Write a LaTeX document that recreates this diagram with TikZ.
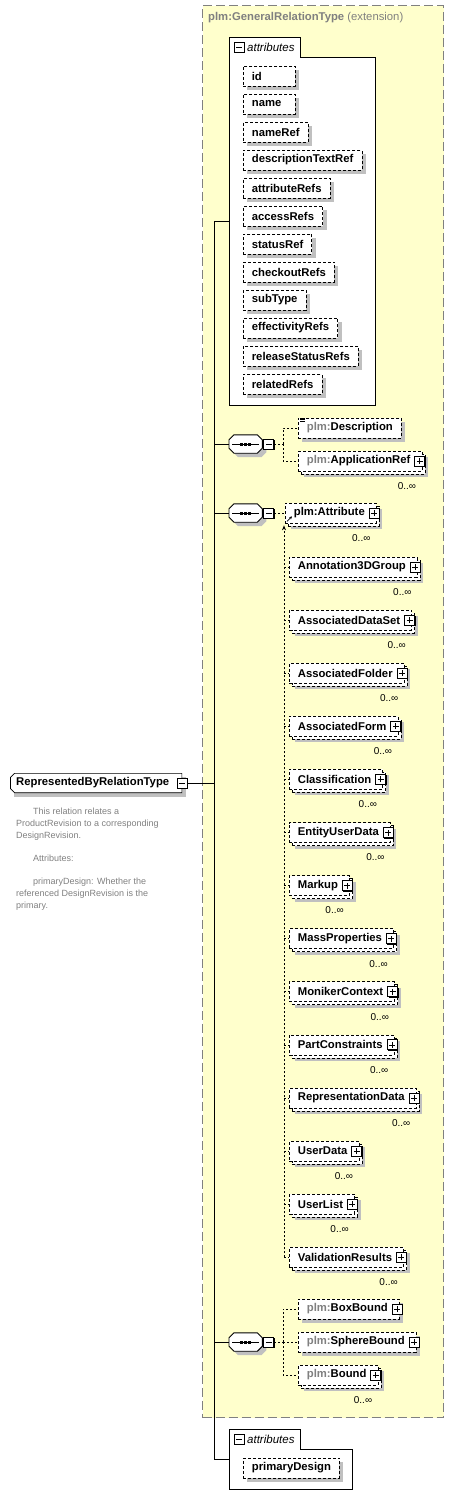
\documentclass[tikz,border=0pt]{standalone}
\usepackage{fontspec}
\setmainfont{Liberation Sans}
\usepackage{xcolor}
\usetikzlibrary{arrows.meta,positioning,calc,shadows}

\definecolor{extyellow}{RGB}{255,255,204}
\definecolor{extgray}{RGB}{128,128,128}
\definecolor{shadegray}{RGB}{192,192,192}

\newcommand{\pfx}{\textcolor{extgray}{plm:}}
\newcommand{\padto}[2]{\setbox0\hbox{#2}%
    \ifdim\wd0<#1\hbox to #1{\box0\hfil}\else\box0\fi}
\newcommand{\gap}[1]{\hspace{#1}\null}
\newcommand{\seqbody}[1]{%
    \path[seqshape] ([xshift=5pt]#1.north west) -- ([xshift=-5pt]#1.north east)
        -- ([yshift=-5pt]#1.north east) -- ([yshift=5pt]#1.south east)
        -- ([xshift=-5pt]#1.south east) -- ([xshift=5pt]#1.south west)
        -- ([yshift=5pt]#1.south west) -- ([yshift=-5pt]#1.north west) -- cycle;
    \draw[line width=0.9pt] ([xshift=3pt]#1.west) -- ([xshift=-3pt]#1.east);
    \foreach \d in {-4,0,4}
        \fill ([xshift=\d pt]#1.center) +(-1.5pt,-1.5pt) rectangle +(1.5pt,1.5pt);}

\tikzset{
    ext/.style={draw=extgray, fill=extyellow, line width=1pt,
        dash pattern=on 9pt off 4pt, inner sep=0pt, anchor=north west},
    title/.style={text=extgray, font=\fontsize{11.3}{13}\selectfont,
        anchor=west, inner sep=0pt},
    shade/.style={drop shadow={shadow xshift=4pt, shadow yshift=-4pt,
        fill=shadegray, opacity=1}},
    box/.style={draw, fill=white, line width=0.7pt, dash pattern=on 3pt off 2pt,
        minimum height=20pt, inner xsep=8.5pt, inner ysep=0pt, anchor=west,
        font=\fontsize{11.3}{13}\selectfont\bfseries},
    one/.style={box, shade},
    attr/.style={one},
    many/.style={box,
        drop shadow={shadow xshift=6pt, shadow yshift=-6pt, fill=shadegray, opacity=1},
        general shadow={shadow xshift=3pt, shadow yshift=-3pt, draw, fill=white}},
    btn/.style={draw, solid, fill=white, line width=0.9pt, minimum size=10pt,
        inner sep=0pt,
        drop shadow={shadow xshift=1pt, shadow yshift=-1pt, fill=black, opacity=1}},
    plusbtn/.style={btn, path picture={
        \draw[line width=0.8pt] ([xshift=2pt]path picture bounding box.west)
            -- ([xshift=-2pt]path picture bounding box.east)
            ([yshift=2pt]path picture bounding box.south)
            -- ([yshift=-2pt]path picture bounding box.north);}},
    minusbtn/.style={btn, path picture={
        \draw[line width=0.8pt] ([xshift=2pt]path picture bounding box.west)
            -- ([xshift=-2pt]path picture bounding box.east);}},
    occ/.style={font=\fontsize{10}{12}\selectfont, inner sep=0pt, anchor=base east},
    seq/.style={minimum width=33pt, minimum height=18pt, inner sep=0pt, anchor=west},
    seqshape/.style={draw, fill=white, line width=0.9pt, shade},
    main/.style={shade, minimum height=20pt, inner xsep=6pt, inner ysep=0pt,
        anchor=west, font=\fontsize{11.3}{13}\selectfont\bfseries, path picture={
        \path[draw, fill=white, line width=0.7pt]
            ([xshift=4.35pt,yshift=-0.35pt]path picture bounding box.north west)
            -- ([xshift=-0.35pt,yshift=-0.35pt]path picture bounding box.north east)
            -- ([xshift=-0.35pt,yshift=0.35pt]path picture bounding box.south east)
            -- ([xshift=4.35pt,yshift=0.35pt]path picture bounding box.south west)
            -- ([xshift=0.35pt,yshift=4.35pt]path picture bounding box.south west)
            -- ([xshift=0.35pt,yshift=-4.35pt]path picture bounding box.north west)
            -- cycle;}},
    doc/.style={text=extgray, font=\fontsize{9}{11.7}\selectfont, align=left,
        anchor=north west, inner sep=0pt},
    frame/.style={fill=white, anchor=north west, inner sep=0pt},
    tab/.style={fill=white, minimum height=19pt, inner xsep=5pt, inner ysep=0pt,
        anchor=south west, font=\fontsize{11.5}{13}\selectfont\itshape},
    link/.style={line width=0.8pt},
    dlink/.style={line width=0.8pt, dash pattern=on 2pt off 2pt}
}

\begin{document}
\begin{tikzpicture}[x=1pt,y=-1pt]
    \useasboundingbox (0,0) rectangle (454,1507);
    \node[ext, minimum width=241pt, minimum height=1412pt] (ext) at (202,5) {};
    \node[title] (ext-t) at (208,18) {\textbf{plm:GeneralRelationType} (extension)};

    \node[frame, minimum width=146pt, minimum height=348pt] (fr1) at (229,57) {};
    \node[tab] (tab1) at (fr1.north west) {\hspace{13pt}attributes};
    \draw (fr1.south west) -- (tab1.north west) -- (tab1.north east)
        -- (tab1.south east) -- (fr1.north east) -- (fr1.south east) -- cycle;
    \node[minusbtn, anchor=west] (tab1-b) at ([xshift=5pt]tab1.west) {};
    \foreach \a [count=\i from 0] in {id,name,nameRef,descriptionTextRef,attributeRefs,
        accessRefs,statusRef,checkoutRefs,subType,effectivityRefs,
        releaseStatusRefs,relatedRefs}
        \node[attr] (a-\a) at (243,{76+28*\i}) {\padto{35pt}{\a}};

    \node[main] (main) at (10,783) {RepresentedByRelationType\gap{7pt}};
    \node[minusbtn] (main-b) at (main.east) {};
    \node[doc] (main-doc) at (16,808) {\hspace*{17pt}This relation relates a\\
        ProductRevision to a corresponding\\
        DesignRevision.\\[11.7pt]
        \hspace*{17pt}Attributes:\\[11.7pt]
        \hspace*{17pt}primaryDesign: Whether the\\
        referenced DesignRevision is the\\
        primary.};

    \node[seq] (seq1) at (229,444) {};
    \seqbody{seq1}
    \node[minusbtn, anchor=west] (seq1-b) at ([xshift=1pt]seq1.east) {};
    \node[seq] (seq2) at (229,513) {};
    \seqbody{seq2}
    \node[minusbtn, anchor=west] (seq2-b) at ([xshift=1pt]seq2.east) {};
    \node[seq] (seq3) at (229,1342) {};
    \seqbody{seq3}
    \node[minusbtn, anchor=west] (seq3-b) at ([xshift=1pt]seq3.east) {};

    \node[frame, minimum width=123pt, minimum height=40pt] (fr2) at (229,1449) {};
    \node[tab] (tab2) at (fr2.north west) {\hspace{13pt}attributes};
    \draw (fr2.south west) -- (tab2.north west) -- (tab2.north east)
        -- (tab2.south east) -- (fr2.north east) -- (fr2.south east) -- cycle;
    \node[minusbtn, anchor=west] (tab2-b) at ([xshift=5pt]tab2.west) {};
    \node[attr] (a-primaryDesign) at (243,1468) {primaryDesign};

    \coordinate (spine) at (214,783);
    \coordinate (fr1-in) at ($(tab1.north west)!.5!(fr1.south west)$);
    \coordinate (fr2-in) at ($(tab2.north west)!.5!(fr2.south west)$);
    \draw[link] (main-b.east) -- (spine);
    \draw[link] (spine) |- (fr1-in);
    \draw[link] (spine) |- (seq1.west);
    \draw[link] (spine) |- (seq2.west);
    \draw[link] (spine) |- (seq3.west);
    \draw[link] (spine) |- (fr2-in);

    \node[one] (desc) at (298,428) {\pfx Description};
    \foreach \k in {0,1.5,3}
        \draw[line width=0.5pt] ([xshift=2pt,yshift={-(\k+0.5)*1pt}]desc.north west) -- ++(5pt,0pt);
    \node[many] (appref) at (298,461) {\pfx ApplicationRef\gap{3pt}};
    \node[plusbtn, anchor=east] (appref-b) at ([xshift=3pt]appref.east) {};
    \node[occ] (appref-o) at ([xshift=-6pt,yshift=-18pt]appref.south east) {0..∞};
    \coordinate (seq1-c) at ([xshift=9pt]seq1-b.east);
    \draw[dlink] (seq1-b.east) -- (seq1-c) (seq1-c) |- (desc.west) (seq1-c) |- (appref.west);

    \node[many] (attr) at (285,513) {plm:Attribute\gap{3pt}};
    \node[plusbtn, anchor=east] (attr-b) at ([xshift=3pt]attr.east) {};
    \node[occ] (attr-o) at ([xshift=-6pt,yshift=-18pt]attr.south east) {0..∞};
    \draw[line width=0.8pt, -{Stealth[length=3pt,width=3pt]}]
        ([xshift=2pt,yshift=2pt]attr.south west) -- ++(5pt,5pt);
    \draw[dlink] (seq2-b.east) -- (attr.west);
    \foreach \m [count=\i from 0] in {Annotation3DGroup,AssociatedDataSet,
        AssociatedFolder,AssociatedForm,Classification,EntityUserData,Markup,
        MassProperties,MonikerContext,PartConstraints,RepresentationData,
        UserData,UserList,ValidationResults}{
        \node[many] (m\i) at (289,{567+53.1*\i}) {\m\gap{3pt}};
        \node[plusbtn, anchor=east] (m\i-b) at ([xshift=3pt]m\i.east) {};
        \node[occ] (m\i-o) at ([xshift=-6pt,yshift=-18pt]m\i.south east) {0..∞};
        \draw[dlink] ([xshift=-1pt]attr.south west |- m\i.west) -- (m\i.west);
    }
    \draw[dlink, -{Stealth[length=5pt,width=4pt]}] ([xshift=-1pt]attr.south west |- m13.west)
        -- ([xshift=-1pt,yshift=-2pt]attr.south west);

    \node[one] (boxb) at (298,1309) {\pfx BoxBound\gap{3pt}};
    \node[plusbtn, anchor=east] (boxb-b) at ([xshift=3pt]boxb.east) {};
    \node[one] (sphb) at (298,1342) {\pfx SphereBound\gap{3pt}};
    \node[plusbtn, anchor=east] (sphb-b) at ([xshift=3pt]sphb.east) {};
    \node[many] (bnd) at (298,1375) {\pfx Bound\gap{3pt}};
    \node[plusbtn, anchor=east] (bnd-b) at ([xshift=3pt]bnd.east) {};
    \node[occ] (bnd-o) at ([xshift=-6pt,yshift=-18pt]bnd.south east) {0..∞};
    \coordinate (seq3-c) at ([xshift=9pt]seq3-b.east);
    \draw[dlink] (seq3-b.east) -- (seq3-c) (seq3-c) |- (boxb.west)
        (seq3-c) |- (sphb.west) (seq3-c) |- (bnd.west);
\end{tikzpicture}
\end{document}
